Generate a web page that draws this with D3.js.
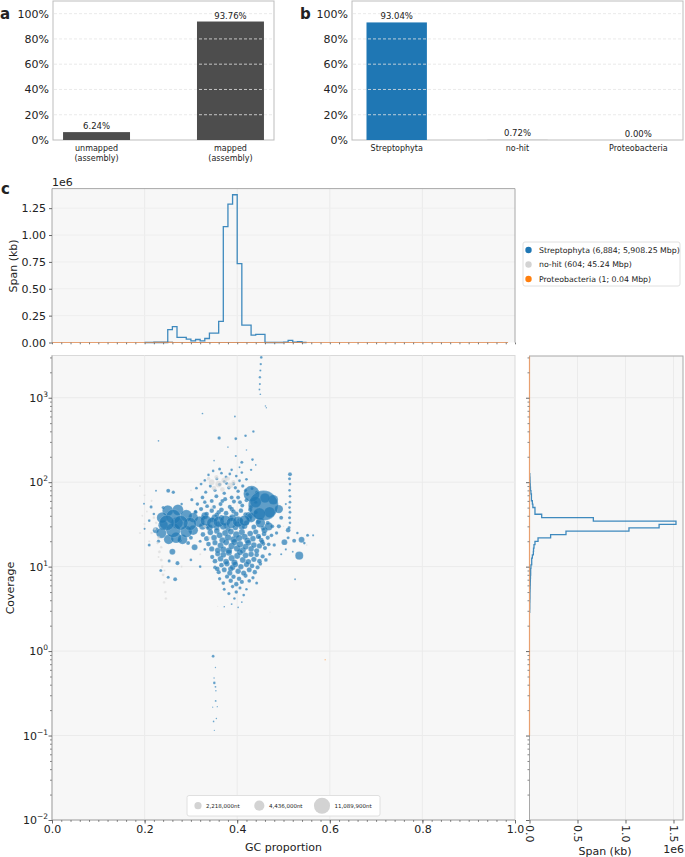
<!DOCTYPE html>
<html>
<head>
<meta charset="utf-8">
<script src="https://cdn.jsdelivr.net/npm/d3@7"></script>
<style>
  body { margin: 0; background: #fff; }
  svg text { font-family: "DejaVu Sans", sans-serif; fill: #222; }
</style>
</head>
<body>
<svg id="fig" width="685" height="857"></svg>
<script>
// ---- panel a / b data
const mappedCats = ['unmapped\n(assembly)', 'mapped\n(assembly)'];
const mappedVals = [0.0624, 0.9376];
const taxa = ['Streptophyta', 'no-hit', 'Proteobacteria'];
const taxaVals = [0.9304, 0.0072, 0.0];
const taxaColors = ['#1f77b4', '#d3d3d3', '#ff7f0e'];
const taxaLegend = ['Streptophyta (6,884; 5,908.25 Mbp)', 'no-hit (604; 45.24 Mbp)', 'Proteobacteria (1; 0.04 Mbp)'];
const pctTicks = [0, 0.2, 0.4, 0.6, 0.8, 1.0];

// ---- GC histogram (span in 1e6 kb), bins of 0.01 starting at 0.20
const gcBinStart = 0.20, gcBinWidth = 0.01;
const gcSpanStrepto = [0, 0, 0, 0, 0, 0.119, 0.147, 0.047, 0.047, 0.031, 0.016, 0.028, 0.016, 0.037,
  0.0875, 0.0875, 0.197, 1.078, 1.2875, 1.375, 0.734, 0.1625, 0.1625, 0.069, 0.075, 0.075,
  0, 0, 0, 0, 0.004, 0.02, 0.004, 0.008, 0];
const gcSpanNoHit = [0, 0, 0.006, 0.007, 0.007, 0.005, 0, 0, 0, 0, 0, 0, 0, 0, 0, 0, 0, 0, 0, 0,
  0, 0, 0, 0, 0, 0, 0, 0, 0, 0, 0, 0, 0, 0, 0];
const spanTicks = [0, 0.25, 0.5, 0.75, 1.0, 1.25];

// ---- coverage histogram (span in 1e6 kb), bins of 0.04 in log10(coverage) starting at 0.46
const covBinStart = 0.46, covBinWidth = 0.04;
const covSpanStrepto = [0.002, 0.003, 0.003, 0.004, 0.005, 0.005, 0.006, 0.007, 0.008, 0.009,
  0.010, 0.012, 0.012, 0.015, 0.023, 0.023, 0.030, 0.040, 0.042, 0.047, 0.057, 0.089, 0.22,
  0.38, 1.036, 1.35, 1.526, 0.665, 0.127, 0.057, 0.057, 0.035, 0.030, 0.020, 0.020, 0.015,
  0.010, 0.008, 0.006, 0.005, 0.003];
const rightSpanTicks = [0, 0.5, 1.0, 1.5];

// ---- blob plot: [GC, coverage, length in Mb]
const sizeLegendNt = [2218000, 4436000, 11089900];
const gcTicks = [0, 0.2, 0.4, 0.6, 0.8, 1.0];
const covTicks = [0.01, 0.1, 1, 10, 100, 1000];

const streptoPoints = [
  // top strand and sparse high coverage
  [0.452, 3000, 0.3], [0.451, 2500, 0.25], [0.45, 2100, 0.2], [0.449, 1750, 0.25], [0.449, 1450, 0.2],
  [0.448, 1250, 0.15], [0.45, 1100, 0.12], [0.461, 800, 0.1], [0.463, 760, 0.08],
  [0.362, 143, 0.4], [0.397, 204, 0.2], [0.418, 355, 0.3], [0.435, 398, 0.25], [0.397, 327, 0.35],
  [0.361, 333, 0.5], [0.41, 172, 0.4], [0.433, 185, 0.3], [0.395, 600, 0.15], [0.325, 650, 0.12],
  [0.23, 309, 0.12], [0.38, 260, 0.1], [0.42, 240, 0.1], [0.35, 180, 0.12], [0.44, 160, 0.12], [0.405, 150, 0.15],
  // 100-150
  [0.33, 105, 0.3], [0.338, 122, 0.3], [0.348, 136, 0.3], [0.356, 110, 0.4], [0.366, 128, 0.35],
  [0.376, 115, 0.4], [0.388, 140, 0.3], [0.398, 118, 0.35], [0.41, 130, 0.3], [0.42, 108, 0.35],
  [0.43, 140, 0.25], [0.372, 102, 0.4], [0.384, 125, 0.35], [0.405, 104, 0.35],
  // 70-100
  [0.312, 85, 0.35], [0.322, 95, 0.35], [0.332, 76, 0.45], [0.342, 90, 0.45], [0.352, 80, 0.5],
  [0.362, 94, 0.5], [0.372, 74, 0.55], [0.382, 86, 0.55], [0.392, 96, 0.5], [0.402, 78, 0.55],
  [0.412, 90, 0.5], [0.422, 72, 0.5], [0.432, 84, 0.4], [0.442, 76, 0.35], [0.396, 86, 0.5],
  [0.377, 97, 0.45], [0.418, 80, 0.45],
  // 50-70
  [0.302, 62, 0.45], [0.314, 55, 0.55], [0.325, 66, 0.6], [0.335, 52, 0.65], [0.345, 60, 0.7],
  [0.355, 68, 0.7], [0.364, 55, 0.75], [0.374, 63, 0.75], [0.384, 51, 0.75], [0.393, 59, 0.75],
  [0.402, 66, 0.7], [0.411, 53, 0.7], [0.42, 61, 0.65], [0.43, 51, 0.6], [0.44, 58, 0.5], [0.35, 51, 0.65],
  [0.368, 60, 0.7], [0.388, 66, 0.7], [0.406, 58, 0.7], [0.33, 58, 0.55],
  // 40-50
  [0.31, 44, 0.7], [0.322, 48, 0.8], [0.334, 42, 0.9], [0.345, 46, 0.9], [0.356, 41, 1.0],
  [0.366, 47, 1.0], [0.376, 43, 1.0], [0.388, 48, 0.9], [0.398, 42, 1.0], [0.408, 46, 0.9],
  [0.418, 41.5, 0.9], [0.428, 47, 0.8], [0.44, 44, 0.7], [0.36, 44, 0.9], [0.392, 45, 0.9],
  // 27-40
  [0.326, 38, 1.0], [0.336, 30, 1.1], [0.346, 36, 1.1], [0.356, 29, 1.2], [0.366, 38, 1.2],
  [0.376, 31, 1.3], [0.386, 37, 1.3], [0.396, 29, 1.3], [0.406, 35, 1.3], [0.416, 30, 1.3],
  [0.426, 37, 1.2], [0.436, 29.5, 1.1], [0.446, 34, 1.0], [0.456, 28.5, 0.9], [0.466, 33, 0.7],
  [0.476, 30, 0.6], [0.36, 32, 1.2], [0.4, 32, 1.3], [0.38, 28, 1.2], [0.42, 33, 1.2],
  // 20-27
  [0.326, 24, 1.0], [0.334, 21.5, 1.2], [0.342, 25.5, 1.4], [0.35, 22, 1.4], [0.356, 26.5, 1.4],
  [0.362, 23.5, 1.6], [0.368, 20.5, 1.6], [0.374, 25, 1.6], [0.38, 22.2, 1.8], [0.386, 26, 1.6],
  [0.392, 21, 1.8], [0.398, 24, 1.8], [0.404, 21.8, 1.8], [0.41, 25.6, 1.6], [0.416, 22.6, 1.6],
  [0.422, 20.4, 1.6], [0.428, 24.6, 1.4], [0.434, 21.4, 1.4], [0.44, 25.8, 1.2], [0.446, 22.8, 1.2],
  [0.452, 20.6, 1.0], [0.458, 24.4, 1.0], [0.466, 22, 0.8], [0.474, 23.5, 0.6],
  // 15-20
  [0.338, 18.5, 1.0], [0.345, 16.2, 1.2], [0.352, 19.2, 1.2], [0.358, 15.6, 1.4], [0.364, 17.8, 1.6],
  [0.37, 16, 1.6], [0.376, 19.4, 1.6], [0.382, 15.4, 1.8], [0.388, 17.6, 1.8], [0.394, 19.6, 1.8],
  [0.4, 16.4, 1.8], [0.406, 18.4, 1.8], [0.412, 15.6, 1.6], [0.418, 17.2, 1.6], [0.424, 19.2, 1.6],
  [0.43, 16.2, 1.4], [0.436, 18, 1.4], [0.442, 15.4, 1.2], [0.448, 17.6, 1.2], [0.454, 19.6, 1.0],
  [0.46, 16.6, 0.8], [0.468, 18.4, 0.6],
  // 11-15
  [0.346, 13, 0.8], [0.352, 11.6, 1.0], [0.358, 14.2, 1.2], [0.364, 12.4, 1.4], [0.37, 13.8, 1.5],
  [0.376, 11.4, 1.5], [0.382, 14.6, 1.6], [0.388, 12.6, 1.6], [0.394, 11.2, 1.6], [0.4, 13.4, 1.6],
  [0.406, 14.8, 1.6], [0.412, 12, 1.5], [0.418, 13.6, 1.5], [0.424, 11.4, 1.4], [0.43, 14, 1.3],
  [0.436, 12.2, 1.2], [0.442, 13.8, 1.0], [0.448, 11.6, 1.0], [0.455, 13.2, 0.8], [0.462, 12, 0.6],
  // 8-11
  [0.352, 9.8, 0.6], [0.36, 8.6, 0.8], [0.366, 10.4, 1.0], [0.372, 9.2, 1.1], [0.378, 10.8, 1.2],
  [0.384, 8.4, 1.2], [0.39, 9.8, 1.3], [0.396, 10.6, 1.3], [0.402, 8.8, 1.3], [0.408, 10, 1.3],
  [0.414, 8.4, 1.2], [0.42, 10.6, 1.2], [0.426, 9.2, 1.1], [0.432, 10.2, 1.0], [0.438, 8.6, 0.9],
  [0.444, 9.8, 0.8], [0.45, 10.8, 0.6], [0.386, 9.4, 1.2],
  // 3-8
  [0.362, 7.2, 0.5], [0.37, 6.4, 0.6], [0.378, 7.6, 0.8], [0.386, 6.8, 0.9], [0.392, 7.6, 0.9],
  [0.398, 6.2, 0.9], [0.404, 7.2, 0.9], [0.41, 6.6, 0.8], [0.418, 7.8, 0.8], [0.426, 6.8, 0.6],
  [0.434, 7.4, 0.5], [0.442, 6.4, 0.4],
  [0.372, 5.4, 0.4], [0.382, 4.8, 0.45], [0.39, 5.8, 0.55], [0.398, 5, 0.55], [0.406, 5.6, 0.45],
  [0.414, 4.6, 0.35], [0.42, 5.4, 0.3], [0.394, 4.2, 0.3],
  [0.388, 3.6, 0.15], [0.402, 3.3, 0.12], [0.372, 3.36, 0.06], [0.41, 3.8, 0.15],
  // low coverage strand
  [0.348, 0.87, 0.35], [0.353, 0.64, 0.08], [0.35, 0.48, 0.1], [0.3506, 0.42, 0.3], [0.353, 0.377, 0.15],
  [0.354, 0.34, 0.1], [0.3535, 0.257, 0.15], [0.357, 0.22, 0.08], [0.347, 0.217, 0.06],
  [0.355, 0.159, 0.1], [0.349, 0.147, 0.12], [0.3506, 0.115, 0.06],
  // high GC strand and cluster
  [0.514, 124, 0.7], [0.513, 110, 0.4], [0.514, 95, 0.3], [0.513, 80, 0.3], [0.514, 68, 0.3],
  [0.514, 58, 0.35], [0.513, 50, 0.3], [0.514, 44, 0.35], [0.513, 38, 0.4], [0.514, 33, 0.3],
  [0.512, 29, 0.4], [0.51, 27, 1.0],
  [0.534, 13.5, 2.8], [0.539, 20.8, 1.5], [0.502, 19.5, 1.5], [0.523, 20.3, 0.7], [0.552, 23.5, 0.4],
  [0.564, 23.5, 0.2], [0.525, 7.1, 0.15], [0.51, 22, 0.4], [0.545, 19, 0.3], [0.505, 16, 0.2],
  [0.53, 25, 0.3], [0.52, 15, 0.15], [0.495, 14, 0.2],
  // scattered medium contigs
  [0.251, 79, 0.7], [0.262, 76, 0.5], [0.214, 51, 0.4], [0.224, 27, 1.5], [0.21, 18, 0.4],
  [0.26, 15, 1.54], [0.271, 11, 0.7], [0.253, 11.7, 0.4], [0.235, 9, 0.4], [0.266, 7.1, 0.7],
  [0.251, 7.5, 0.4], [0.308, 17, 1.54], [0.294, 19, 0.7], [0.276, 20.6, 0.7], [0.2246, 79, 0.17],
  [0.1987, 55.5, 0.17], [0.357, 9.4, 1.0], [0.4565, 18.6, 0.7], [0.448, 22.3, 0.4], [0.459, 27, 1.54],
  [0.21, 35, 0.3], [0.2, 28, 0.2], [0.22, 42, 0.3], [0.3, 12, 0.3], [0.32, 10, 0.3], [0.47, 14, 0.4],
  [0.48, 18, 0.5], [0.49, 30, 0.8], [0.495, 38, 0.7], [0.485, 25, 0.5], [0.505, 55, 0.2],
  [0.23, 20, 0.5], [0.3, 22, 0.7], [0.31, 45, 0.5], [0.24, 50, 0.4], [0.28, 55, 0.3],
  [0.32, 20, 0.4], [0.33, 16, 0.3], [0.372, 3.36, 0.05],
  // low-GC blob
  [0.248, 33, 10], [0.262, 39, 9], [0.262, 27, 9], [0.278, 33, 9], [0.29, 40, 6], [0.29, 26, 6],
  [0.25, 46, 5], [0.236, 25, 4.5], [0.272, 47, 5], [0.298, 32, 7], [0.238, 38, 5], [0.268, 22, 5],
  [0.305, 27, 4], [0.252, 21, 4], [0.282, 21, 4], [0.24, 31, 4], [0.305, 38, 4], [0.27, 33, 6],
  // bridge
  [0.318, 34, 5], [0.332, 35, 5], [0.346, 33, 5], [0.36, 34, 5], [0.374, 35, 5], [0.388, 33, 5],
  [0.402, 34, 5], [0.416, 35, 5], [0.33, 40, 2], [0.352, 38, 2], [0.37, 30, 2],
  [0.39, 38, 2], [0.41, 30, 2], [0.425, 40, 2.5], [0.325, 30, 2], [0.34, 29, 1.8],
  // high-GC blob
  [0.4565, 52.8, 38.5], [0.431, 72.8, 11], [0.448, 42, 6], [0.47, 44, 5], [0.44, 58, 5],
  [0.478, 62, 4], [0.45, 33, 4], [0.468, 30, 3], [0.43, 38, 4], [0.49, 48, 3], [0.46, 65, 4]
];

const noHitPoints = [
  [0.19, 90, 0.15], [0.2, 70, 0.2], [0.205, 45, 0.15], [0.215, 60, 0.2], [0.22, 38, 0.3],
  [0.225, 33, 0.3], [0.215, 25, 0.3], [0.228, 19, 0.3], [0.232, 15, 0.4], [0.236, 12, 0.4],
  [0.238, 10, 0.3], [0.24, 8, 0.4], [0.242, 6.5, 0.3], [0.245, 5, 0.3], [0.246, 4.2, 0.3],
  [0.236, 17, 0.3], [0.23, 22, 0.4], [0.222, 28, 0.3], [0.21, 20, 0.2], [0.23, 13, 0.2],
  [0.243, 9, 0.2], [0.2, 32, 0.2], [0.19, 25, 0.2], [0.195, 40, 0.15],
  [0.345, 100, 1.5], [0.36, 95, 2], [0.372, 105, 1.5], [0.385, 92, 1.5], [0.35, 85, 1],
  [0.368, 82, 1], [0.38, 110, 0.8], [0.392, 100, 0.8], [0.338, 110, 0.6], [0.355, 115, 0.8],
  [0.358, 3.39, 0.05], [0.471, 2.9, 0.05], [0.3, 80, 0.15], [0.44, 100, 0.15], [0.32, 14, 0.2],
  [0.28, 10, 0.2], [0.5, 30, 0.1], [0.55, 18, 0.1], [0.345, 50, 0.2], [0.33, 30, 0.3], [0.34, 22, 0.3]
];

const proteoPoints = [[0.590, 0.79, 0.04]];

// ------------------------------------------------------------------
const svg = d3.select('#fig');
const fmtPct = d3.format('.0%');

function letter(t, x, y) {
  svg.append('text').attr('x', x).attr('y', y)
    .attr('font-size', 15).attr('font-weight', 'bold').text(t);
}

// bar panels a and b
function barPanel(cats, vals, colors, x0, x1, padOuter) {
  const x = d3.scaleBand().domain(cats).range([x0, x1]).paddingInner(0.5).paddingOuter(padOuter);
  const y = d3.scaleLinear().domain([0, 1.1]).range([140, 1]);
  const g = svg.append('g');

  g.append('rect').attr('x', x0).attr('y', 1).attr('width', x1 - x0).attr('height', 139)
    .attr('fill', '#fff').attr('stroke', '#bdbdbd');

  g.selectAll('rect.bar').data(cats).enter().append('rect')
    .attr('class', 'bar')
    .attr('x', d => x(d))
    .attr('y', (d, i) => y(vals[i]))
    .attr('width', x.bandwidth())
    .attr('height', (d, i) => y(0) - y(vals[i]))
    .attr('fill', (d, i) => colors[i]);

  // dashed grid on top of bars
  g.selectAll('line.grid').data(pctTicks.slice(1)).enter().append('line')
    .attr('x1', x0 + 1).attr('x2', x1 - 1)
    .attr('y1', d => y(d)).attr('y2', d => y(d))
    .attr('stroke', '#e4e4e4').attr('stroke-width', 0.8).attr('stroke-dasharray', '3,2');

  g.selectAll('text.tick').data(pctTicks).enter().append('text')
    .attr('x', x0 - 4).attr('y', d => y(d) + 4)
    .attr('text-anchor', 'end').attr('font-size', 11)
    .text(d => fmtPct(d));

  g.selectAll('text.val').data(cats).enter().append('text')
    .attr('x', d => x(d) + x.bandwidth() / 2)
    .attr('y', (d, i) => y(vals[i]) - 3)
    .attr('text-anchor', 'middle').attr('font-size', 8.5).attr('fill', '#333')
    .text((d, i) => d3.format('.2f')(vals[i] * 100) + '%');

  const lab = g.selectAll('text.cat').data(cats).enter().append('text')
    .attr('text-anchor', 'middle').attr('font-size', 8).attr('fill', '#333');
  lab.each(function(d) {
    const cx = x(d) + x.bandwidth() / 2;
    d.split('\n').forEach((s, i) => {
      d3.select(this).append('tspan').attr('x', cx).attr('y', 151 + i * 9.5).text(s);
    });
  });
}

barPanel(mappedCats, mappedVals, ['#4d4d4d', '#4d4d4d'], 53, 274, 0.075);
barPanel(taxa, taxaVals, taxaColors, 352, 683, 0.12);
letter('a', 0, 19);
letter('b', 300, 19);
letter('c', 1, 194);

// step outline vertices for a histogram
function stepVerts(start, width, vals) {
  const pts = [[start, 0]];
  vals.forEach((v, i) => {
    pts.push([start + i * width, v]);
    pts.push([start + (i + 1) * width, v]);
  });
  pts.push([start + vals.length * width, 0]);
  return pts;
}

const gcX = d3.scaleLinear().domain([0, 1]).range([52, 515]);
const covY = d3.scaleLog().domain([0.01, 3162]).range([820, 355.5]);
const sizeR = d3.scaleSqrt().domain([0, 11.0899]).range([0, 8.05]);

// ---- top histogram
const spanY = d3.scaleLinear().domain([0, 1.432]).range([342.5, 188.6]);
const topHist = svg.append('g');
topHist.append('rect').attr('x', 52).attr('y', 188.6).attr('width', 463).attr('height', 342.5 - 188.6)
  .attr('fill', '#f7f7f7');
topHist.selectAll('line.gx').data(gcTicks.slice(1, -1)).enter().append('line')
  .attr('x1', d => gcX(d)).attr('x2', d => gcX(d)).attr('y1', 188.6).attr('y2', 342.5)
  .attr('stroke', '#eaeaea');
topHist.selectAll('line.gy').data(spanTicks.slice(1)).enter().append('line')
  .attr('x1', 52).attr('x2', 515).attr('y1', d => spanY(d)).attr('y2', d => spanY(d))
  .attr('stroke', '#eeeeee');

const gcLine = d3.line().x(d => gcX(d[0])).y(d => spanY(d[1]));
topHist.append('path').attr('d', gcLine(stepVerts(gcBinStart, gcBinWidth, gcSpanNoHit)))
  .attr('fill', 'none').attr('stroke', '#b8b8b8').attr('stroke-width', 1.2);
topHist.append('path').attr('d', gcLine(stepVerts(gcBinStart, gcBinWidth, gcSpanStrepto)))
  .attr('fill', 'none').attr('stroke', '#1f77b4').attr('stroke-width', 1.3).attr('stroke-opacity', 0.85);
topHist.append('line').attr('x1', gcX(0)).attr('x2', gcX(0.985)).attr('y1', spanY(0)).attr('y2', spanY(0))
  .attr('stroke', '#e08a50').attr('stroke-width', 1).attr('stroke-opacity', 0.8);

topHist.append('path').attr('d', 'M52,342.5V188.6H515V342.5').attr('fill', 'none').attr('stroke', '#a8a8a8');
const topAxis = topHist.append('g').attr('transform', 'translate(52,0)')
  .call(d3.axisLeft(spanY).tickValues(spanTicks).tickFormat(d3.format('.2f')).tickSize(3));
topAxis.select('.domain').remove();
topAxis.selectAll('text').attr('font-size', 11).attr('font-family', null).attr('fill', '#222');
topAxis.selectAll('line').attr('stroke', '#666');
const gcMinor = d3.range(0, 1.0001, 0.02);
topHist.append('g').attr('transform', 'translate(0,342.5)')
  .call(d3.axisBottom(gcX).tickValues(gcMinor).tickFormat('').tickSize(1.8))
  .call(g => g.select('.domain').remove())
  .selectAll('line').attr('stroke', '#777');
topHist.append('text').attr('x', 52).attr('y', 186).attr('font-size', 11).text('1e6');
topHist.append('text').attr('transform', 'translate(17,266) rotate(-90)')
  .attr('text-anchor', 'middle').attr('font-size', 11).text('Span (kb)');

// ---- colour legend
const leg = svg.append('g');
leg.append('rect').attr('x', 523).attr('y', 242).attr('width', 157).attr('height', 44).attr('rx', 2)
  .attr('fill', '#fff').attr('stroke', '#e0e0e0');
const legY = [250, 264.5, 279];
taxaLegend.forEach((t, i) => {
  leg.append('circle').attr('cx', 528.5).attr('cy', legY[i]).attr('r', 3.2).attr('fill', taxaColors[i]);
  leg.append('text').attr('x', 539).attr('y', legY[i] + 2.8).attr('font-size', 7.8).attr('fill', '#333').text(t);
});

// ---- blob scatter
const sc = svg.append('g');
sc.append('clipPath').attr('id', 'clipSc').append('rect')
  .attr('x', 52).attr('y', 355.5).attr('width', 463).attr('height', 464.5);
sc.append('rect').attr('x', 52).attr('y', 355.5).attr('width', 463).attr('height', 464.5)
  .attr('fill', '#f7f7f7').attr('stroke', '#d9d9d9');
sc.selectAll('line.gx').data(gcTicks.slice(1, -1)).enter().append('line')
  .attr('x1', d => gcX(d)).attr('x2', d => gcX(d)).attr('y1', 355.5).attr('y2', 820)
  .attr('stroke', '#ebebeb');
sc.selectAll('line.gy').data(covTicks.slice(1)).enter().append('line')
  .attr('x1', 52).attr('x2', 515).attr('y1', d => covY(d)).attr('y2', d => covY(d))
  .attr('stroke', '#ebebeb');

const dots = sc.append('g').attr('clip-path', 'url(#clipSc)');
function drawPoints(pts, color, opacity) {
  const sorted = pts.slice().sort((a, b) => a[2] - b[2]);
  dots.append('g').selectAll('circle').data(sorted).enter().append('circle')
    .attr('cx', d => gcX(d[0]))
    .attr('cy', d => covY(d[1]))
    .attr('r', d => Math.max(0.6, sizeR(d[2])))
    .attr('fill', color).attr('fill-opacity', opacity)
    .attr('stroke', '#fff').attr('stroke-width', 0.4).attr('stroke-opacity', 0.4);
}
drawPoints(streptoPoints, taxaColors[0], 0.7);
drawPoints(noHitPoints, taxaColors[1], 0.6);
drawPoints(proteoPoints, taxaColors[2], 0.9);

// axes of the scatter
sc.append('path').attr('d', 'M52,355.5V820H515').attr('fill', 'none').attr('stroke', '#a8a8a8');
const logMinor = [];
covTicks.forEach(t => d3.range(2, 10).forEach(k => { if (t * k < 3162) logMinor.push(t * k); }));

function logAxis(g, x) {
  g.append('g').attr('transform', `translate(${x},0)`)
    .call(d3.axisLeft(covY).tickValues(covTicks).tickFormat('').tickSize(3.5))
    .call(a => a.select('.domain').remove())
    .selectAll('line').attr('stroke', '#666');
  g.append('g').attr('transform', `translate(${x},0)`)
    .call(d3.axisLeft(covY).tickValues(logMinor).tickFormat('').tickSize(2))
    .call(a => a.select('.domain').remove())
    .selectAll('line').attr('stroke', '#888');
}
logAxis(sc, 52);

covTicks.forEach(t => {
  const e = Math.round(Math.log10(t));
  const tx = sc.append('text').attr('x', 48).attr('y', covY(t) + 4)
    .attr('text-anchor', 'end').attr('font-size', 11);
  tx.append('tspan').text('10');
  tx.append('tspan').attr('dy', -5).attr('font-size', 7.5).text(e < 0 ? '\u2212' + (-e) : e);
});

sc.append('g').attr('transform', 'translate(0,820)')
  .call(d3.axisBottom(gcX).tickValues(gcMinor).tickFormat('').tickSize(1.8))
  .call(a => a.select('.domain').remove())
  .selectAll('line').attr('stroke', '#777');
const scX = sc.append('g').attr('transform', 'translate(0,820)')
  .call(d3.axisBottom(gcX).tickValues(gcTicks).tickFormat(d3.format('.1f')).tickSize(3.5));
scX.select('.domain').remove();
scX.selectAll('line').attr('stroke', '#666');
scX.selectAll('text').attr('font-size', 11).attr('font-family', null).attr('fill', '#222').attr('dy', '0.6em');

sc.append('text').attr('x', gcX(0.5)).attr('y', 851).attr('text-anchor', 'middle')
  .attr('font-size', 11).text('GC proportion');
sc.append('text').attr('transform', 'translate(14,588) rotate(-90)')
  .attr('text-anchor', 'middle').attr('font-size', 11).text('Coverage');

// size legend
const sl = sc.append('g');
sl.append('rect').attr('x', 187).attr('y', 795.5).attr('width', 193).attr('height', 20.5).attr('rx', 2)
  .attr('fill', '#fff').attr('stroke', '#e0e0e0');
const slX = [198, 259.3, 322];
sizeLegendNt.forEach((n, i) => {
  sl.append('circle').attr('cx', slX[i]).attr('cy', 805.7).attr('r', sizeR(n / 1e6)).attr('fill', '#d3d3d3');
  sl.append('text').attr('x', slX[i] + sizeR(n / 1e6) + 4.5).attr('y', 807.6)
    .attr('font-size', 5.5).attr('fill', '#333').text(d3.format(',')(n) + 'nt');
});

// ---- right coverage histogram
const spanX = d3.scaleLinear().domain([0, 1.599]).range([529.5, 683]);
const rh = svg.append('g');
rh.append('rect').attr('x', 529.5).attr('y', 356).attr('width', 683 - 529.5).attr('height', 464)
  .attr('fill', '#f7f7f7');
rh.selectAll('line.gx').data(rightSpanTicks.slice(1)).enter().append('line')
  .attr('x1', d => spanX(d)).attr('x2', d => spanX(d)).attr('y1', 356).attr('y2', 820)
  .attr('stroke', '#ebebeb');
rh.selectAll('line.gy').data(covTicks.slice(1)).enter().append('line')
  .attr('x1', 529.5).attr('x2', 683).attr('y1', d => covY(d)).attr('y2', d => covY(d))
  .attr('stroke', '#ebebeb');

const covLine = d3.line().x(d => spanX(d[1])).y(d => covY(Math.pow(10, d[0])));
rh.append('path').attr('d', covLine(stepVerts(covBinStart, covBinWidth, covSpanStrepto)))
  .attr('fill', 'none').attr('stroke', '#1f77b4').attr('stroke-width', 1.3).attr('stroke-opacity', 0.85);

rh.append('rect').attr('x', 529.5).attr('y', 356).attr('width', 683 - 529.5).attr('height', 464)
  .attr('fill', 'none').attr('stroke', '#a8a8a8');
rh.append('line').attr('x1', spanX(0)).attr('x2', spanX(0)).attr('y1', covY(0.1)).attr('y2', 356.5)
  .attr('stroke', '#e8a070').attr('stroke-width', 1.2);
logAxis(rh, 529.5);

const rhX = rh.append('g').attr('transform', 'translate(0,820)')
  .call(d3.axisBottom(spanX).tickValues(rightSpanTicks).tickFormat(d3.format('.1f')).tickSize(3.5));
rhX.select('.domain').remove();
rhX.selectAll('line').attr('stroke', '#666');
rhX.selectAll('text').attr('font-size', 11).attr('font-family', null).attr('fill', '#222')
  .attr('text-anchor', 'start').attr('dy', '0.35em')
  .attr('transform', 'translate(0,5) rotate(90)').attr('x', 0).attr('y', 0);
rh.append('text').attr('x', 684).attr('y', 853).attr('text-anchor', 'end').attr('font-size', 11).text('1e6');
rh.append('text').attr('x', 605).attr('y', 855).attr('text-anchor', 'middle').attr('font-size', 11).text('Span (kb)');
</script>
</body>
</html>
